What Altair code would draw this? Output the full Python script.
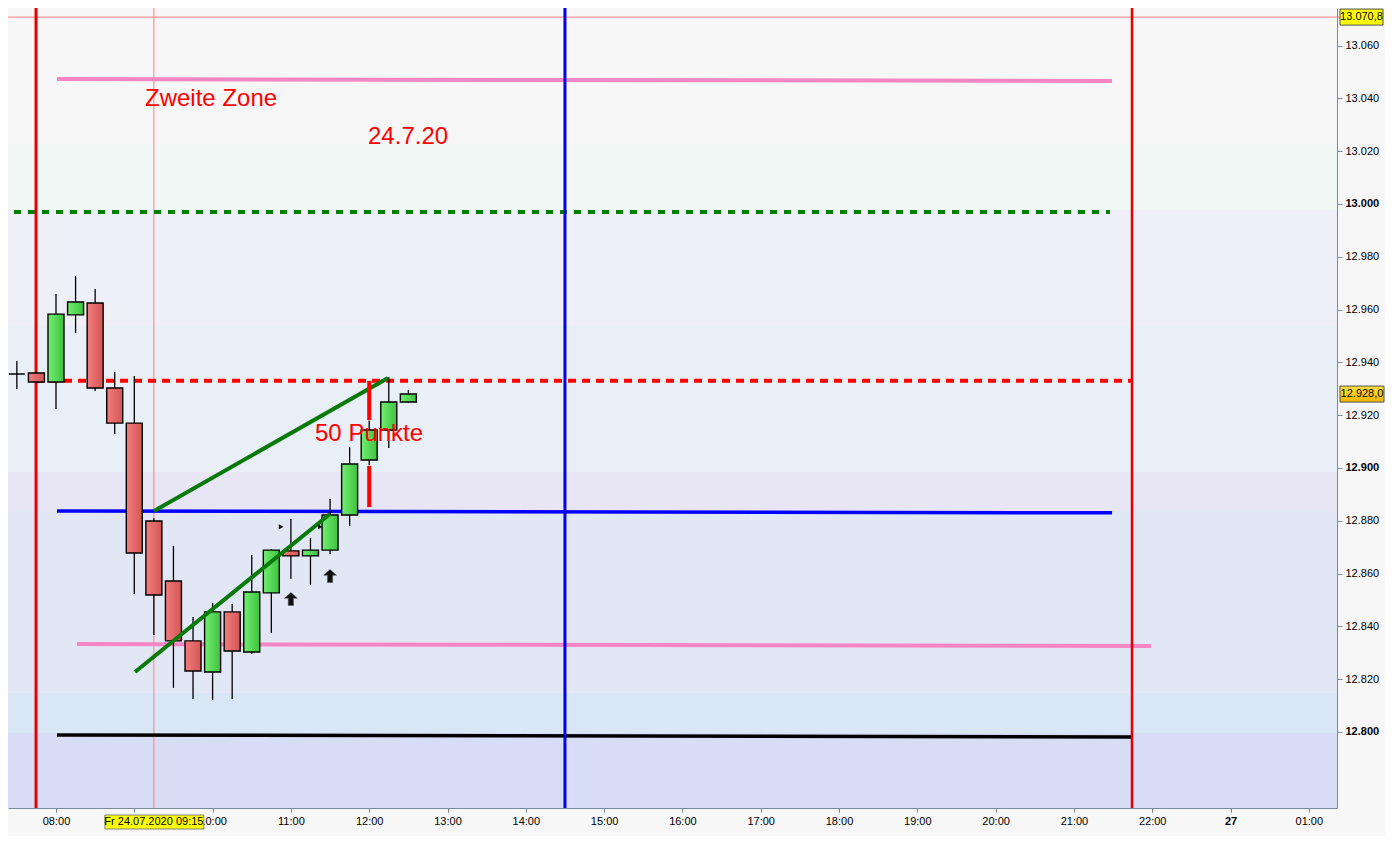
import altair as alt
import pandas as pd

W, H = 1329, 800
X_DOM = [7.387, 24.36]
Y_DOM = [12771.21, 13074.24]

# 15-minute candles (hour of day; 23 = "27" session start, 24 = 01:00)
times = [7.25, 7.5, 7.75, 8.0, 8.25, 8.5, 8.75, 9.0, 9.25, 9.5, 9.75, 10.0,
         10.25, 10.5, 10.75, 11.0, 11.25, 11.5, 11.75, 12.0, 12.25, 12.5]
opens = [12943.6, 12935.6, 12936.0, 12932.6, 12958.0, 12962.5, 12930.3, 12917.0,
         12879.9, 12857.2, 12834.5, 12822.7, 12845.5, 12830.3, 12852.7, 12868.6,
         12866.7, 12868.9, 12882.2, 12903.0, 12914.4, 12925.0]
highs = [12946.0, 12940.5, 12936.4, 12965.9, 12972.7, 12967.8, 12936.4, 12934.8,
         12881.0, 12870.5, 12843.6, 12848.9, 12848.5, 12867.0, 12869.2, 12880.7,
         12873.5, 12888.3, 12908.0, 12918.0, 12934.5, 12929.5]
lows = [12934.0, 12929.9, 12932.3, 12922.3, 12951.1, 12929.2, 12912.9, 12852.3,
        12836.7, 12816.7, 12812.5, 12812.1, 12812.5, 12829.5, 12837.5, 12858.0,
        12855.7, 12867.4, 12878.0, 12901.1, 12907.6, 12924.6]
closes = [12936.4, 12935.6, 12932.6, 12958.3, 12962.9, 12930.3, 12917.0, 12867.8,
          12851.9, 12834.5, 12823.1, 12845.5, 12830.7, 12853.0, 12868.9, 12866.7,
          12868.9, 12882.2, 12901.5, 12914.4, 12925.0, 12928.0]

# background price zones
band_ids = ["b1", "b2", "b3", "b4", "b5", "b6", "b7", "b8"]
band_top = [13074.24, 13022.7, 12997.7, 12953.8, 12898.5, 12883.7, 12814.8, 12799.6]
band_bottom = [13022.7, 12997.7, 12953.8, 12898.5, 12883.7, 12814.8, 12799.6, 12771.21]
band_colors = ["#f7f7f7", "#f0f7f5", "#efeff7", "#e9eff7", "#e8e6f5", "#e2e7f5",
               "#d9e6f5", "#d6ddf5"]

# drawn segments (start hour, end hour, start price, end price)
seg_names = ["zone_top", "support_green", "resist_red", "blue_mid", "zone_low",
             "black_base", "trend_upper", "trend_lower", "range_a", "range_b"]
seg_x1 = [8.013, 7.285, 7.745, 8.013, 8.268, 8.013, 9.252, 9.009, 12.0, 12.0]
seg_x2 = [21.487, 21.46, 21.755, 21.487, 21.985, 21.742, 12.240, 11.499, 12.0, 12.0]
seg_y1 = [13047.3, 12997.0, 12933.0, 12883.7, 12833.3, 12798.9, 12883.7, 12822.7,
          12933.0, 12900.8]
seg_y2 = [13046.6, 12997.0, 12933.0, 12883.0, 12832.6, 12798.1, 12934.1, 12882.6,
          12918.2, 12885.2]

vline_names = ["start_red", "mid_blue", "end_red"]
vline_x = [7.745, 14.5, 21.742]

cross_x = [9.25]
cross_y = [13070.8]
cross_time_label = ["Fr 24.07.2020 09:15"]
cross_price_label = ["13.070,8"]
last_price = [12928.0]
last_price_label = ["12.928,0"]

notes = ["Zweite Zone", "24.7.20", "50 Punkte"]
note_x = [9.137, 11.985, 11.308]
note_y = [13037.1, 13022.7, 12910.2]

arrow_x = [11.0, 11.5]
arrow_y = [12850.4, 12859.1]
tri_x = [10.875, 11.375]
tri_y = [12877.7, 12877.7]

FONT = "Liberation Sans"
xs = alt.Scale(domain=X_DOM, nice=False, zero=False, padding=0)
ys = alt.Scale(domain=Y_DOM, nice=False, zero=False, padding=0)

x_axis = alt.Axis(
    values=list(range(8, 25)), orient="bottom", title=None, grid=False,
    tickSize=4, tickColor="#7a8a9a", domainColor="#7a8a9a", domainWidth=1,
    labelFont=FONT, labelFontSize=11, labelColor="#000000", labelPadding=3,
    labelOverlap=False, labelFlush=False,
    labelExpr="datum.value == 9 ? '' : datum.value == 23 ? '27' : "
              "datum.value == 24 ? '01:00' : "
              "(datum.value < 10 ? '0' : '') + datum.value + ':00'",
    labelFontWeight={"condition": {"test": "datum.value == 23", "value": "bold"},
                     "value": "normal"},
    zindex=0,
)
y_axis = alt.Axis(
    values=list(range(12800, 13061, 20)), orient="right", title=None, grid=False,
    tickSize=5, tickColor="#7a8a9a", domainColor="#7a8a9a", domainWidth=1,
    labelFont=FONT, labelFontSize=11, labelColor="#000000", labelPadding=3,
    labelOverlap=False, labelFlush=False,
    labelExpr="replace(format(datum.value, ','), ',', '.')",
    labelFontWeight={"condition": {"test": "datum.value % 100 == 0", "value": "bold"},
                     "value": "normal"},
    zindex=1,
)


def X(field):
    return alt.X(field, scale=xs, axis=x_axis)


def Y(field):
    return alt.Y(field, scale=ys, axis=y_axis)


bands_df = pd.DataFrame({"band": band_ids, "top": band_top, "bottom": band_bottom})
bands = alt.Chart(bands_df).mark_rect(clip=True).encode(
    x=alt.value(0), x2=alt.value(W),
    y=Y("top:Q"), y2="bottom:Q",
    color=alt.Color("band:N", scale=alt.Scale(domain=band_ids, range=band_colors),
                    legend=None),
)

segs_df = pd.DataFrame({"name": seg_names, "x1": seg_x1, "x2": seg_x2,
                        "y1": seg_y1, "y2": seg_y2})


def seg_layer(names, color, width, dash=None):
    kw = dict(color=color, strokeWidth=width, clip=True)
    if dash:
        kw["strokeDash"] = dash
    cond = " || ".join([f"datum.name == '{n}'" for n in names])
    return alt.Chart(segs_df).transform_filter(cond).mark_rule(**kw).encode(
        x=X("x1:Q"), x2="x2:Q", y=Y("y1:Q"), y2="y2:Q",
    )


vl_df = pd.DataFrame({"name": vline_names, "x": vline_x})


def vline_layer(name, color, width):
    return alt.Chart(vl_df).transform_filter(f"datum.name == '{name}'").mark_rule(
        color=color, strokeWidth=width, clip=True).encode(x=X("x:Q"))


cross_df = pd.DataFrame({"x": cross_x, "y": cross_y, "tl": cross_time_label,
                         "pl": cross_price_label})
cross_v = alt.Chart(cross_df).mark_rule(color="#ff8080", strokeWidth=1, clip=True).encode(
    x=X("x:Q"))
cross_h = alt.Chart(cross_df).mark_rule(color="#ff8080", strokeWidth=1).encode(
    y=Y("y:Q"), x=alt.value(0), x2=alt.value(W + 3))

candles = pd.DataFrame({"t": times, "o": opens, "h": highs, "l": lows, "c": closes})
wicks = alt.Chart(candles).mark_rule(color="black", strokeWidth=1.3, clip=True).encode(
    x=X("t:Q"), y=Y("l:Q"), y2="h:Q")

green_grad = alt.Gradient(gradient="linear", x1=0, x2=1, y1=0, y2=0,
                          stops=[alt.GradientStop(color="#72ee72", offset=0),
                                 alt.GradientStop(color="#3ec23e", offset=1)])
red_grad = alt.Gradient(gradient="linear", x1=0, x2=1, y1=0, y2=0,
                        stops=[alt.GradientStop(color="#f27c7c", offset=0),
                               alt.GradientStop(color="#d45656", offset=1)])

up = alt.Chart(candles).transform_filter("datum.c >= datum.o").mark_bar(
    size=16, fill=green_grad, stroke="black", strokeWidth=1.4, clip=True).encode(
    x=X("t:Q"), y=Y("o:Q"), y2="c:Q")
down = alt.Chart(candles).transform_filter("datum.c < datum.o").mark_bar(
    size=16, fill=red_grad, stroke="black", strokeWidth=1.4, clip=True).encode(
    x=X("t:Q"), y=Y("o:Q"), y2="c:Q")

notes_df = pd.DataFrame({"txt": notes, "x": note_x, "y": note_y})
note_text = alt.Chart(notes_df).mark_text(
    align="left", baseline="alphabetic", font=FONT, fontSize=24, color="#ff0000").encode(
    x=X("x:Q"), y=Y("y:Q"), text="txt:N")

arrow_df = pd.DataFrame({"x": arrow_x, "y": arrow_y})
arrows = alt.Chart(arrow_df).mark_point(
    shape="M0,-1L1,-0.1H0.4V1H-0.4V-0.1H-1Z", size=170, filled=True, fill="#111111",
    stroke="#555555", strokeWidth=0.5, opacity=1).encode(x=X("x:Q"), y=Y("y:Q"))
tri_df = pd.DataFrame({"x": tri_x, "y": tri_y})
tris = alt.Chart(tri_df).mark_point(
    shape="triangle-right", size=28, filled=True, fill="#111111", opacity=1).encode(
    x=X("x:Q"), y=Y("y:Q"))

# yellow cursor labels on the axes
cross_box = alt.Chart(cross_df).mark_rect(
    fill="#ffff00", stroke="#505050", strokeWidth=1, yOffset=-8, y2Offset=8).encode(
    y=Y("y:Q"), y2="y:Q", x=alt.value(W + 3), x2=alt.value(W + 46))
cross_box_txt = alt.Chart(cross_df).mark_text(
    font=FONT, fontSize=11, color="#000000", align="center", baseline="middle").encode(
    y=Y("y:Q"), x=alt.value(W + 24.5), text="pl:N")

time_box = alt.Chart(cross_df).mark_rect(
    fill="#ffff00", stroke="#808080", strokeWidth=1, xOffset=-49, x2Offset=50).encode(
    x=X("x:Q"), x2="x:Q", y=alt.value(H + 7), y2=alt.value(H + 21))
time_box_txt = alt.Chart(cross_df).mark_text(
    font=FONT, fontSize=11, color="#000000", align="center", baseline="middle").encode(
    x=X("x:Q"), y=alt.value(H + 14), text="tl:N")

last_df = pd.DataFrame({"y": last_price, "lbl": last_price_label})
last_box = alt.Chart(last_df).mark_rect(
    fill=alt.Gradient(gradient="linear", x1=0, x2=0, y1=0, y2=1,
                      stops=[alt.GradientStop(color="#ffe040", offset=0),
                             alt.GradientStop(color="#f0b400", offset=1)]),
    stroke="#505050", strokeWidth=1, yOffset=-8, y2Offset=8).encode(
    y=Y("y:Q"), y2="y:Q", x=alt.value(W + 3), x2=alt.value(W + 47))
last_box_txt = alt.Chart(last_df).mark_text(
    font=FONT, fontSize=11, color="#000000", align="center", baseline="middle").encode(
    y=Y("y:Q"), x=alt.value(W + 25), text="lbl:N")

chart = alt.layer(
    bands,
    cross_v, cross_h,
    seg_layer(["support_green"], "#008000", 4, [7, 7]),
    seg_layer(["resist_red"], "#ff0000", 4, [8, 6]),
    seg_layer(["zone_top", "zone_low"], "#f585c3", 4),
    seg_layer(["blue_mid"], "#0000ff", 3.5),
    seg_layer(["black_base"], "#000000", 3.5),
    vline_layer("start_red", "#e60000", 3),
    vline_layer("mid_blue", "#0000ee", 3),
    vline_layer("end_red", "#e60000", 2.5),
    wicks, down, up,
    seg_layer(["trend_upper", "trend_lower"], "#097a09", 4),
    seg_layer(["range_a", "range_b"], "#ff0000", 4),
    arrows, tris,
    note_text,
    cross_box, cross_box_txt, last_box, last_box_txt,
    time_box, time_box_txt,
).properties(
    width=W, height=H, background="#f7f7f7",
    autosize=alt.AutoSizeParams(type="none"),
    padding={"left": 0, "top": 0, "right": 48, "bottom": 28},
).configure_view(strokeWidth=0)

chart.save("out.html", embed_options={"renderer": "svg", "actions": False})
